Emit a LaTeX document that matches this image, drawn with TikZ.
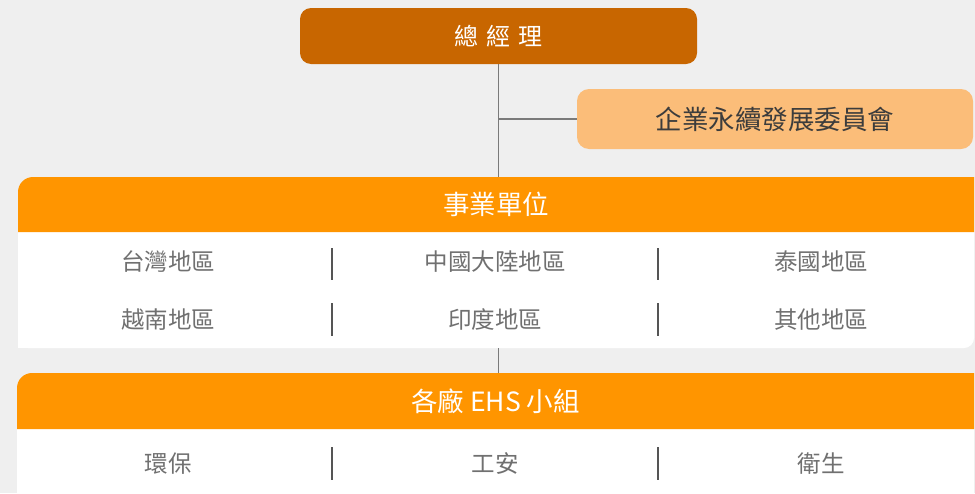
\documentclass[tikz,border=0pt]{standalone}
\usepackage{fontspec}
\setmainfont{Noto Sans CJK TC}
\definecolor{bg}{HTML}{EFEFEF}
\definecolor{gmc}{HTML}{C86600}
\definecolor{hdrc}{HTML}{FF9500}
\definecolor{comc}{HTML}{FBBD79}
\definecolor{txtg}{HTML}{707070}
\definecolor{txtd}{HTML}{3C3C3C}
\definecolor{linec}{HTML}{7A7A7A}
\definecolor{sepc}{HTML}{555555}
\begin{document}
\begin{tikzpicture}[x=1pt,y=-1pt,
  conn/.style={draw=linec,line width=1.5pt},
  sep/.style={draw=sepc,line width=1.3pt},
  gmbox/.style={fill=gmc,rounded corners=11pt,minimum width=397pt,minimum height=56pt,inner sep=0pt,text=white,font=\fontsize{24}{28}\selectfont},
  combox/.style={fill=comc,rounded corners=12pt,minimum width=396pt,minimum height=60pt,inner sep=0pt,text=txtd,font=\fontsize{26.5}{30}\selectfont},
  hdrtext/.style={minimum width=956pt,minimum height=55pt,inner sep=0pt,text=white,font=\fontsize{26.5}{30}\selectfont},
  cell/.style={text=txtg,inner sep=0pt,font=\fontsize{23.5}{27}\selectfont}
]
\useasboundingbox (0,0) rectangle (975,493);
\fill[bg] (0,0) rectangle (975,493);

% top
\node[gmbox] (gm) at (498.5,36) {總\hspace{0.35em}經\hspace{0.35em}理};
\node[combox] (com) at (775,119) {企業永續發展委員會};

% section 1
\fill[white,rounded corners=10pt] (18,232) -- (18,348) -- (974,348) -- (974,232);
\fill[white] (18,232) rectangle (974,300);
\fill[white] (18,300) rectangle (900,348);
\fill[hdrc] (18,232) [rounded corners=15pt] -- (18,177) [sharp corners] -- (974,177) -- (974,232) -- cycle;
\node[hdrtext] (hdr1) at (496,204.5) {事業單位};
\coordinate (body1s) at (496,348);

\node[cell] (c11) at (168,262) {台灣地區};
\node[cell] (c12) at (495,262) {中國大陸地區};
\node[cell] (c13) at (821,262) {泰國地區};
\node[cell] (c21) at (168,320) {越南地區};
\node[cell] (c22) at (495,320) {印度地區};
\node[cell] (c23) at (821,320) {其他地區};

\coordinate (s1a) at (332,248); \coordinate (s1b) at (332,280);
\coordinate (s2a) at (658,248); \coordinate (s2b) at (658,280);
\coordinate (s3a) at (332,303); \coordinate (s3b) at (332,336);
\coordinate (s4a) at (658,303); \coordinate (s4b) at (658,336);
\draw[sep] (s1a) -- (s1b);
\draw[sep] (s2a) -- (s2b);
\draw[sep] (s3a) -- (s3b);
\draw[sep] (s4a) -- (s4b);

% section 2
\fill[white] (17,429) rectangle (974,493);
\fill[hdrc] (17,429) [rounded corners=15pt] -- (17,373) [sharp corners] -- (974,373) -- (974,429) -- cycle;
\node[hdrtext] (hdr2) at (495.5,401) {各廠 EHS 小組};

\node[cell] (e1) at (168,464) {環保};
\node[cell] (e2) at (495,464) {工安};
\node[cell] (e3) at (821,464) {衛生};
\coordinate (s5a) at (332,447); \coordinate (s5b) at (332,480);
\coordinate (s6a) at (658,447); \coordinate (s6b) at (658,480);
\draw[sep] (s5a) -- (s5b);
\draw[sep] (s6a) -- (s6b);

% connectors
\draw[conn] (gm.south) -- (gm.south |- hdr1.north);
\draw[conn] (gm.south |- com.west) -- (com.west);
\draw[conn] (gm.south |- body1s) -- (gm.south |- hdr2.north);
\end{tikzpicture}
\end{document}
